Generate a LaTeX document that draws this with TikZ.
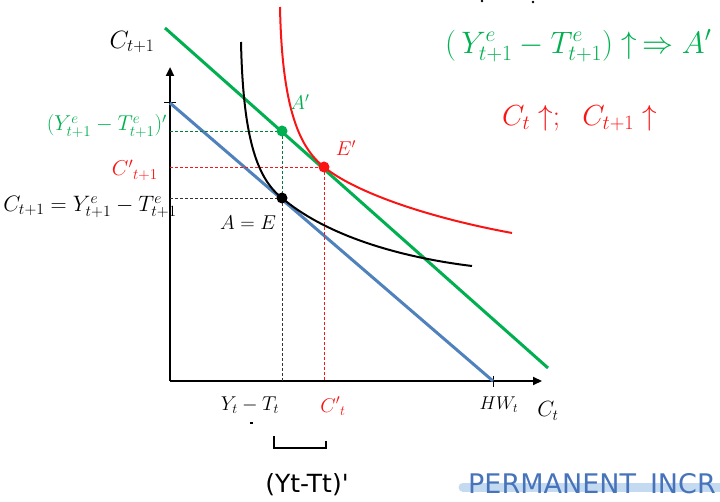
\RequirePackage{fix-cm}
\documentclass[tikz,border=0pt]{standalone}
\usepackage{fontspec}
\usetikzlibrary{arrows.meta}
\definecolor{ggreen}{RGB}{0,176,80}
\definecolor{rred}{RGB}{250,20,20}
\definecolor{bblue}{RGB}{79,129,189}
\definecolor{hand}{RGB}{70,115,185}
\definecolor{hilite}{RGB}{195,218,240}
\newfontfamily\handfont{DejaVu Sans}
\tikzset{
  axis/.style={line width=2.6pt, -{Triangle[length=9pt,width=8pt]}},
  budget/.style={line width=3pt},
  indiff/.style={line width=2pt},
  guide/.style={line width=0.9pt, dash pattern=on 3pt off 2pt},
  dot/.style={circle, minimum size=11pt, inner sep=0pt},
  lbl/.style={inner sep=0pt, font=\fontsize{20}{24}\selectfont},
  side/.style={inner sep=0pt, font=\fontsize{21.5}{25}\selectfont},
  bigl/.style={inner sep=0pt, font=\fontsize{25}{30}\selectfont},
  hw/.style={inner sep=0pt, font=\handfont\fontsize{25}{28}\selectfont}
}
\begin{document}
\begin{tikzpicture}[x=1pt,y=-1pt]
\useasboundingbox (0,0) rectangle (720,502);
% axes
\coordinate (O) at (170,381);
\coordinate (ytop) at (170,67);
\coordinate (xend) at (542,381);
\draw[axis] (O) -- (ytop);
\draw[axis] (O) -- (xend);
% budget lines
\coordinate (b1) at (170,103);
\coordinate (b2) at (493,381);
\coordinate (g1) at (165,28);
\coordinate (g2) at (548,368);
\draw[line width=1pt] (164,103) -- (176,103);
\draw[line width=1pt] (493,376) -- (493,387);
\draw[budget, bblue] (b1) -- (b2);
\draw[budget, ggreen] (g1) -- (g2);
% points
\coordinate (A) at (282,198);
\coordinate (Ap) at (282,131);
\coordinate (Ep) at (324,167);
\coordinate (Ax) at (282,381);
\coordinate (Ay) at (170,198);
\coordinate (Apy) at (170,131);
\coordinate (Epx) at (324,381);
\coordinate (Epy) at (170,167);
% guides
\draw[guide, ggreen!70!black] (Apy) -- (Ap);
\draw[guide, ggreen!70!black] (Ap) -- (A);
\draw[guide, black!80] (A) -- (Ax);
\draw[guide, rred] (Epy) -- (Ep);
\draw[guide, rred] (Ep) -- (Epx);
\draw[guide, black!80] (Ay) -- (A);
% indifference curves
\draw[indiff, black] (241,42) .. controls (243,135) and (256,178) .. (A)
   .. controls (322,232) and (390,256) .. (472,266);
\draw[indiff, rred] (280,7) .. controls (282,110) and (300,148) .. (Ep)
   .. controls (352,190) and (420,216) .. (512,233);
% dots
\node[dot, fill=black] (nA) at (A) {};
\node[dot, fill=ggreen] (nAp) at (Ap) {};
\node[dot, fill=rred] (nEp) at (Ep) {};
% labels
\node[bigl] (lC1) at (132,42) {$C_{t+1}$};
\node[side, anchor=east, text=ggreen] (lYp) at (167,126) {$(Y^e_{t+1}-T^e_{t+1})'$};
\node[side, anchor=east, text=rred] (lCp) at (158,170) {${C'}_{t+1}$};
\node[inner sep=0pt, anchor=east, font=\fontsize{22.3}{27}\selectfont] (lC) at (177,207) {$C_{t+1}=Y^e_{t+1}-T^e_{t+1}$};
\node[lbl] (lAE) at (248,223) {$A=E$};
\node[lbl, text=ggreen] (lAp) at (300,102) {$A'$};
\node[lbl, text=rred] (lEp) at (346,148) {$E'$};
\node[lbl] (lYT) at (250,405) {$Y_t-T_t$};
\node[lbl, text=rred] (lCt) at (333,406) {${C'}_t$};
\node[inner sep=0pt, font=\fontsize{18.5}{22}\selectfont] (lHW) at (499,405) {$HW_t$};
\node[inner sep=0pt, font=\fontsize{22}{26}\selectfont] (lCt2) at (548,411) {$C_t$};
% top-right statements
\node[inner sep=0pt, anchor=west, text=ggreen, font=\fontsize{31}{36}\selectfont] (s1) at (445,46) {$(\,Y^e_{t+1}-T^e_{t+1})\uparrow\,\Rightarrow A'$};
\node[inner sep=0pt, anchor=west, text=rred, font=\fontsize{29}{34}\selectfont] (s2) at (502,118) {$C_t\uparrow;\ \ C_{t+1}\uparrow$};
% handwritten annotations
\draw[line width=1.6pt] (250,423) -- (253,423);
\draw[line width=1.6pt] (274,436) -- (274,448) -- (326,448) -- (326,441);
\node[hw] (hYT) at (307,485) {(Yt-Tt)'};
\draw[hilite, line width=9pt, line cap=round] (463,487) -- (730,487);
\node[hw, anchor=west, text=hand, font=\handfont\fontsize{27}{32}\selectfont] (hPI) at (468,484) {PERMANENT\hspace{14pt}INCR};
\fill[black] (482,1) circle (1.3);
\fill[black] (533,2) circle (1.3);
\end{tikzpicture}
\end{document}
